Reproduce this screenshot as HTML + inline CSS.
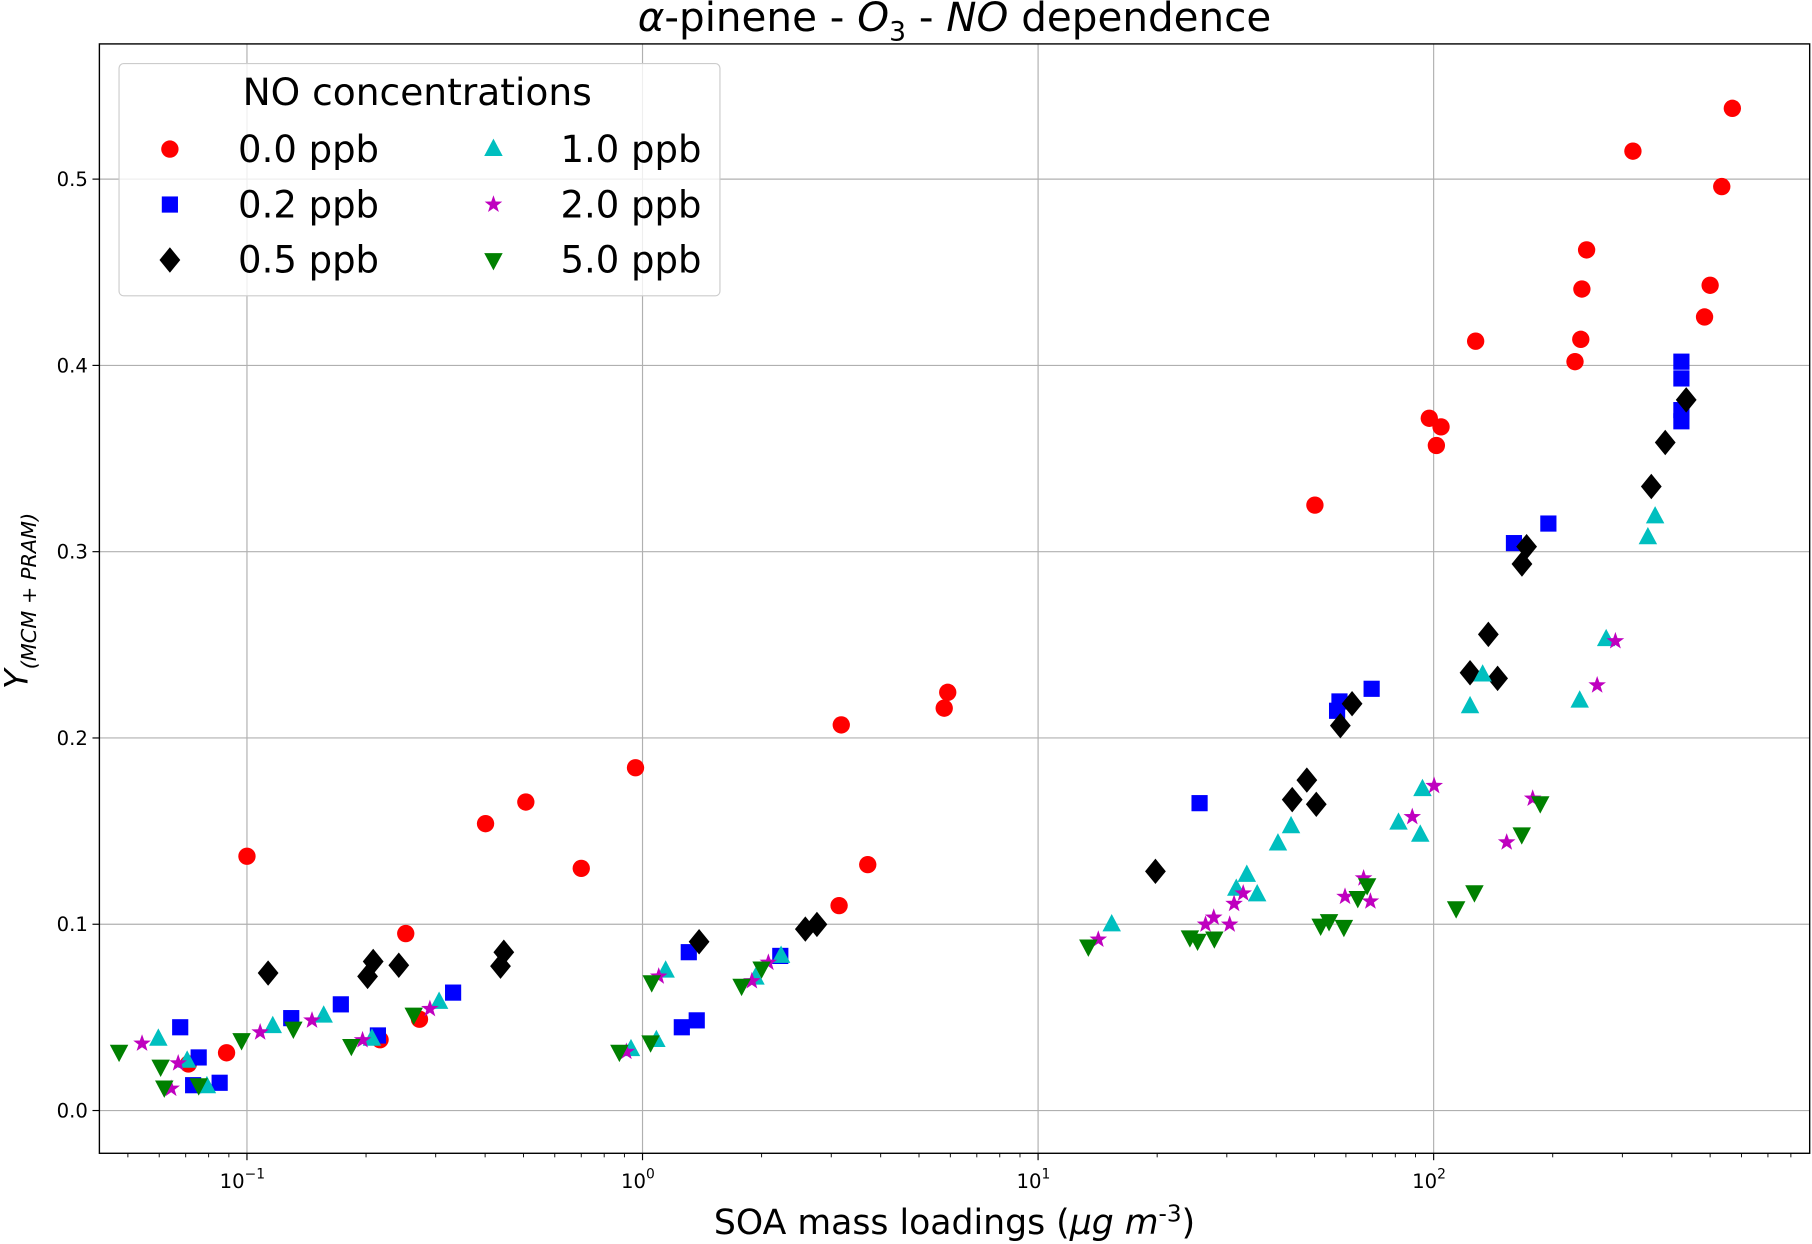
<!DOCTYPE html>
<html><head><meta charset="utf-8"><style>
html,body{margin:0;padding:0;background:#fff;}
svg{display:block;font-family:"DejaVu Sans","Liberation Sans",sans-serif;}
</style></head><body>
<svg id="chart" width="1812" height="1244" viewBox="0 0 1568 1076.5" xmlns="http://www.w3.org/2000/svg">
<rect x="0" y="0" width="1568" height="1076.5" fill="#fff"/>
<g id="grid"></g>
<g id="marks"></g>
<rect x="86" y="38" width="1480" height="960" fill="none" stroke="#000" stroke-width="1.2"/>
<g id="ticks"></g>
<text x="826" y="27" font-size="35" text-anchor="middle"><tspan font-style="italic">α</tspan>-pinene - <tspan font-style="italic">O</tspan><tspan font-size="23" dy="8">3</tspan><tspan dy="-8"> - </tspan><tspan font-style="italic">NO</tspan> dependence</text>
<text x="826" y="1068" font-size="30" text-anchor="middle">SOA mass loadings (<tspan font-style="italic">μg m</tspan><tspan font-size="20" dy="-11">-3</tspan><tspan dy="11">)</tspan></text>
<text transform="translate(24,520) rotate(-90)" font-size="28" text-anchor="middle" font-style="italic">Y<tspan font-size="18" dy="7">(MCM + PRAM)</tspan></text>
<g>
<rect x="103" y="55" width="520" height="201" rx="4" fill="#fff" fill-opacity="0.8" stroke="#ccc" stroke-width="1"/>
<text x="361" y="91" font-size="32.5" text-anchor="middle">NO concentrations</text>
<g id="legend-items"></g>
</g>
</svg>
<script>
const xTicks = [0.1, 1, 10, 100];
const xTickLabels = ["−1", "0", "1", "2"];
const yTicks = [0.0, 0.1, 0.2, 0.3, 0.4, 0.5];
const yTickLabels = ["0.0", "0.1", "0.2", "0.3", "0.4", "0.5"];
const seriesNames = ["0.0 ppb","0.2 ppb","0.5 ppb","1.0 ppb","2.0 ppb","5.0 ppb"];
const s0x = [0.0888,0.0711,0.1,0.252,0.217,0.273,0.401,0.507,0.700,0.960,3.18,3.14,3.71,5.79,5.91,50.1,97.5,104.4,101.6,127.7,227.7,235.5,237,243.6,319,484,500,535,569];
const s0y = [0.031,0.025,0.1365,0.095,0.038,0.049,0.154,0.1656,0.130,0.184,0.207,0.110,0.132,0.216,0.2245,0.325,0.3716,0.367,0.357,0.413,0.402,0.414,0.441,0.462,0.515,0.426,0.443,0.496,0.538];
const s1x = [0.0678,0.0755,0.0731,0.0853,0.1294,0.1727,0.2143,0.332,1.257,1.371,1.309,2.23,25.6,57.0,57.8,69.7,159.6,195,423,423,423,423];
const s1y = [0.0447,0.0285,0.0136,0.0149,0.0496,0.057,0.0403,0.0633,0.0447,0.0484,0.085,0.083,0.165,0.2146,0.2196,0.2264,0.3046,0.3151,0.402,0.393,0.370,0.376];
const s2x = [0.1131,0.2018,0.2085,0.242,0.4375,0.446,1.39,2.58,2.76,19.8,43.9,47.8,50.5,58.1,62.2,123.6,137.5,145.1,167.2,171.8,355,385,435];
const s2y = [0.0738,0.072,0.080,0.078,0.0775,0.085,0.0906,0.0974,0.0999,0.1284,0.1669,0.1774,0.1644,0.2066,0.2184,0.235,0.2556,0.232,0.2934,0.3027,0.335,0.3586,0.3815];
const s3x = [0.0597,0.0706,0.0792,0.1162,0.1563,0.207,0.306,0.935,1.084,1.144,1.93,2.24,15.35,31.7,33.7,35.8,40.4,43.6,81.5,92.5,93.7,123.6,133,234,273,348,363];
const s3y = [0.0385,0.0267,0.013,0.0453,0.0509,0.0385,0.0583,0.0329,0.0378,0.0751,0.0713,0.083,0.0999,0.119,0.1265,0.116,0.1433,0.1526,0.1545,0.148,0.1725,0.217,0.234,0.220,0.253,0.3077,0.3189];
const s4x = [0.0543,0.067,0.0643,0.108,0.146,0.196,0.290,0.910,1.099,1.89,2.08,14.2,26.5,27.8,30.5,31.3,33.0,59.7,66.5,69.2,88.3,100.3,153,178,259,288];
const s4y = [0.036,0.0254,0.0118,0.042,0.0484,0.0378,0.0546,0.0316,0.072,0.0695,0.0794,0.0918,0.0999,0.1036,0.0999,0.111,0.1166,0.1148,0.1247,0.1123,0.1576,0.1743,0.144,0.1675,0.2283,0.252];
const s5x = [0.0475,0.0605,0.0618,0.0755,0.0969,0.131,0.1836,0.264,0.874,1.048,1.055,1.78,2.00,13.4,24.2,25.3,27.9,51.8,54.4,59.3,64.3,67.9,114,126.8,167,186];
const s5y = [0.0316,0.0236,0.0124,0.0136,0.0378,0.044,0.0347,0.0515,0.0316,0.0366,0.0689,0.067,0.0763,0.0881,0.093,0.0912,0.0924,0.0993,0.1017,0.0986,0.1141,0.121,0.1086,0.1172,0.1483,0.165];

const NS = "http://www.w3.org/2000/svg";
const L=86,R=1566,T=38,B=998;
function xs(v){return 556+342.3*Math.log10(v);}
function ys(v){return 961-1612*v;}
function mk(tag,attrs,parent){const e=document.createElementNS(NS,tag);for(const k in attrs)e.setAttribute(k,attrs[k]);parent.appendChild(e);return e;}
const grid=document.getElementById('grid'),ticks=document.getElementById('ticks'),marks=document.getElementById('marks');
xTicks.forEach((v,i)=>{
  const x=xs(v);
  const g=mk('line',{x1:x,x2:x,y1:T,y2:B,stroke:'#b0b0b0','stroke-width':1},grid);
  
  
  mk('line',{x1:x,x2:x,y1:B,y2:B+6,stroke:'#000','stroke-width':1},ticks);
  const t=mk('text',{x:x-4,y:B+30,'font-size':17,'text-anchor':'middle'},ticks);
  
  
  t.innerHTML='10<tspan font-size="12" dy="-8">'+xTickLabels[i]+'</tspan>';
});
for(let e=-2;e<=2;e++){for(let m=2;m<=9;m++){const v=m*Math.pow(10,e);const x=xs(v);if(x<L||x>R)continue;mk('line',{x1:x,x2:x,y1:B,y2:B+3.5,stroke:'#000','stroke-width':0.8},ticks);}}
yTicks.forEach((v,i)=>{
  const y=ys(v);
  const g=mk('line',{x1:L,x2:R,y1:y,y2:y,stroke:'#b0b0b0','stroke-width':1},grid);
  
  
  mk('line',{x1:L-6,x2:L,y1:y,y2:y,stroke:'#000','stroke-width':1},ticks);
  const t=mk('text',{x:L-10,y:y+6,'font-size':17,'text-anchor':'end'},ticks);
  
  
  t.textContent=yTickLabels[i];
});
function starPts(cx,cy,r){let p=[];for(let i=0;i<10;i++){const a=-Math.PI/2+i*Math.PI/5;const rr=i%2?r*0.4:r;p.push((cx+rr*Math.cos(a)).toFixed(1)+','+(cy+rr*Math.sin(a)).toFixed(1));}return p.join(' ');}
function marker(kind,cx,cy,parent){
  if(kind===0)return mk('circle',{cx,cy,r:7.5,fill:'#ff0000'},parent);
  if(kind===1)return mk('rect',{x:cx-7,y:cy-7,width:14,height:14,fill:'#0000ff'},parent);
  if(kind===2)return mk('polygon',{points:`${cx},${cy-11} ${cx+9},${cy} ${cx},${cy+11} ${cx-9},${cy}`,fill:'#000'},parent);
  if(kind===3)return mk('polygon',{points:`${cx},${cy-9} ${cx+8},${cy+6} ${cx-8},${cy+6}`,fill:'#00bfbf'},parent);
  if(kind===4)return mk('polygon',{points:starPts(cx,cy,8),fill:'#bf00bf'},parent);
  return mk('polygon',{points:`${cx-8},${cy-6} ${cx+8},${cy-6} ${cx},${cy+9}`,fill:'#008000'},parent);
}
const allX=[s0x,s1x,s2x,s3x,s4x,s5x],allY=[s0y,s1y,s2y,s3y,s4y,s5y];
for(let s=0;s<6;s++){
  const g=mk('g',{},marks);
  
  
  allX[s].forEach((v,i)=>{
    const m=marker(s,xs(v),ys(allY[s][i]),g);
    
    
  });
}
const li=document.getElementById('legend-items');
for(let s=0;s<6;s++){
  const col=s<3?0:1,row=s%3;
  const mx=col?427:147,tx=col?485:206,y=129+row*48;
  const g=mk('g',{},li);
  
  
  marker(s,mx,y,g);
  const t=mk('text',{x:tx,y:y+11,'font-size':32},g);
  t.textContent=seriesNames[s];
}
</script>
</body></html>
